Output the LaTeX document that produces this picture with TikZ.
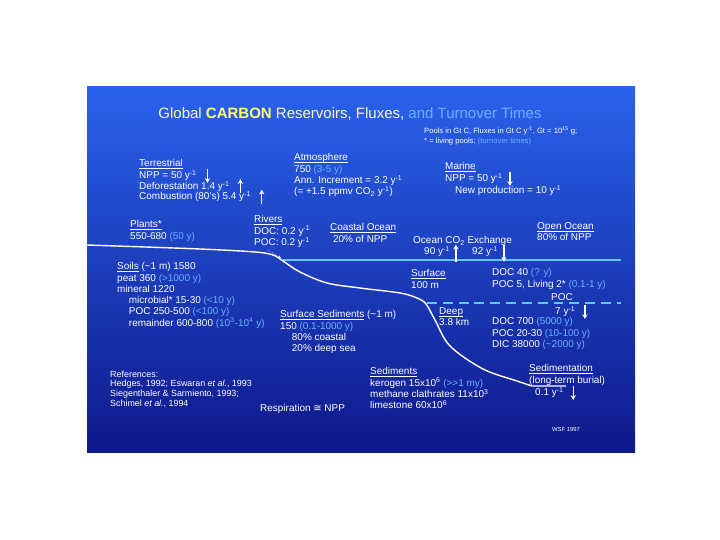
\documentclass[tikz,border=0pt]{standalone}
\usepackage{fontspec}
\setmainfont{Liberation Sans}
\newfontfamily\symfont{DejaVu Sans}
\usepackage{tikz}
\usetikzlibrary{arrows.meta}
\definecolor{slidetop}{RGB}{42,98,236}
\definecolor{slidebot}{RGB}{14,24,138}
\definecolor{turnblue}{RGB}{105,178,255}
\definecolor{titleyel}{RGB}{250,250,195}
\definecolor{carbyel}{RGB}{255,255,110}
\definecolor{seablue}{RGB}{95,200,250}
\newcommand{\turnover}[1]{\textcolor{turnblue}{#1}}
\newcommand{\peryr}{y\textsuperscript{-1}}
\newcommand{\hdr}[1]{\underline{\raisebox{0pt}[\height][0pt]{#1}}}

\begin{document}
\begin{tikzpicture}[x=0.03cm,y=-0.03cm,
    every node/.style={inner sep=0pt,text=white,font=\fontsize{8.5}{9.6}\selectfont},
    blk/.style={anchor=north west,align=left},
    flx/.style={white,line width=1.2pt,shorten <=-1.5pt,shorten >=-1.5pt,-{Stealth[length=4pt,width=4.5pt]}}]
  \useasboundingbox (0,0) rectangle (720,540);
  \shade[top color=slidetop,bottom color=slidebot] (87,87) rectangle (635,452);

  % sea surface, thermocline and sea floor
  \coordinate (shore) at (283,260);
  \coordinate (seaend) at (621,260);
  \coordinate (mouth) at (281,258);
  \draw[seablue,line width=1.8pt] (shore) -- (seaend);
  \draw[seablue,line width=1.8pt,dash pattern=on 8.5pt off 5pt] (427,303) -- (621,303);
  \draw[white,line width=1.2pt] plot[smooth,tension=0.55] coordinates {(87,245) (200,249) (255,252) (273,255) (283,261) (300,272)
    (327,283) (360,288) (400,293) (417,298) (426,304) (435,320) (450,346) (483,369) (517,381) (532,386)} -- (566,386);

  \node (title) at (350,114) {\fontsize{12.8}{14}\selectfont\textcolor{titleyel}{Global \textbf{\textcolor{carbyel}{CARBON}} Reservoirs, Fluxes,} \textcolor{turnblue}{and Turnover Times}};
  \node[blk,font=\fontsize{6.5}{8}\selectfont] (units) at (424,127) {Pools in Gt C, Fluxes in Gt C \peryr, Gt = 10\textsuperscript{15} g;\\ * = living pools; \turnover{(turnover times)}};

  \node[blk] (terr) at (139,159.5) {\hdr{Terrestrial}};
  \node[blk] (terrnpp) at (139,170.5) {NPP = 50 \peryr};
  \node[blk] (terrdef) at (139,181) {Deforestation 1.4 \peryr};
  \node[blk] (terrcomb) at (139,191.5) {Combustion (80's) 5.4 \peryr};
  \draw[flx] ([xshift=9pt]terrnpp.north east) -- ([xshift=9pt]terrnpp.south east);
  \draw[flx] ([xshift=9pt]terrdef.south east) -- ([xshift=9pt]terrdef.north east);
  \draw[flx] ([xshift=9pt]terrcomb.south east) -- ([xshift=9pt]terrcomb.north east);

  \node[blk] (atm) at (294,153.5) {\hdr{Atmosphere}\\ 750 \turnover{(3-5 y)}\\ Ann. Increment = 3.2 \peryr\\ (= +1.5 ppmv CO\textsubscript{2} \peryr)};

  \node[blk] (mar) at (445,162.5) {\hdr{Marine}};
  \node[blk] (marnpp) at (445,173.5) {NPP = 50 \peryr};
  \node[blk] (marnew) at (455,185) {New production = 10 \peryr};
  \draw[flx] ([xshift=6pt]marnpp.north east) -- ([xshift=6pt]marnpp.south east);

  \node[blk] (plants) at (130,220.5) {\hdr{Plants*}\\ 550-680 \turnover{(50 y)}};
  \node[blk] (riv) at (254,215.5) {\hdr{Rivers}\\ DOC: 0.2 \peryr\\ POC: 0.2 \peryr};
  \draw[white,densely dotted,thin,-{Stealth[length=2.5pt]}] ([shift={(12pt,-2pt)}]riv.south west) -- (mouth);
  \node[blk] (coast) at (330,223.5) {\hdr{Coastal Ocean}\\ \ 20\% of NPP};
  \node[blk] (exch) at (413,236.5) {Ocean CO\textsubscript{2} Exchange};
  \node[blk] (exin) at (424,246.5) {90 \peryr};
  \node[blk] (exout) at (472,246.5) {92 \peryr};
  \draw[flx] ([xshift=5pt]exin.east |- shore) -- ([xshift=5pt]exin.north east);
  \draw[flx] ([xshift=5pt]exout.north east) -- ([xshift=5pt]exout.east |- shore);
  \node[blk] (open) at (537,222.5) {\hdr{Open Ocean}\\ 80\% of NPP};

  \node[blk] (soils) at (117,262.5) {\hdr{Soils} (\textasciitilde 1 m) 1580\\ peat 360 \turnover{(>1000 y)}\\ mineral 1220\\
    \hspace*{10pt}microbial* 15-30 \turnover{(<10 y)}\\ \hspace*{10pt}POC 250-500 \turnover{(<100 y)}\\
    \hspace*{10pt}remainder 600-800 \turnover{(10\textsuperscript{3}-10\textsuperscript{4} y)}};

  \node[blk] (surf) at (411,269.5) {\hdr{Surface}\\ 100 m};
  \node[blk] (deep) at (439,307.5) {\hdr{Deep}\\ 3.8 km};
  \node[blk] (surfpool) at (492,268.5) {DOC 40 \turnover{(? y)}\\ POC 5, Living 2* \turnover{(0.1-1 y)}};
  \node (pocflux) at (562,297) {POC};
  \node[blk] (pocrate) at (555,306.5) {7 \peryr};
  \draw[flx] ([xshift=8pt]pocrate.north east) -- ([xshift=8pt]pocrate.south east);
  \node[blk] (deeppool) at (492,317.5) {DOC 700 \turnover{(5000 y)}\\ POC 20-30 \turnover{(10-100 y)}\\ DIC 38000 \turnover{(\textasciitilde 2000 y)}};

  \node[blk] (surfsed) at (280,310.5) {\hdr{Surface Sediments} (\textasciitilde 1 m)\\ 150 \turnover{(0.1-1000 y)}\\
    \hspace*{10pt}80\% coastal\\ \hspace*{10pt}20\% deep sea};

  \node[blk,font=\fontsize{7.6}{8.3}\selectfont] (refs) at (110,370.5) {References:\\ Hedges, 1992; Eswaran \textit{et al.}, 1993\\
    Siegenthaler \& Sarmiento, 1993;\\ Schimel \textit{et al.}, 1994};
  \node[blk] (resp) at (260,404.5) {Respiration {\symfont ≅} NPP};
  \node[blk] (seds) at (370,367.5) {\hdr{Sediments}\\ kerogen 15x10\textsuperscript{6} \turnover{(>{}>1 my)}\\
    methane clathrates 11x10\textsuperscript{3}\\ limestone 60x10\textsuperscript{6}};
  \node[blk] (sedim) at (529,364.5) {\hdr{Sedimentation}\\ (long-term burial)};
  \node[blk] (burial) at (535,387.5) {0.1 \peryr};
  \draw[flx] ([xshift=8pt]burial.north east) -- ([xshift=8pt]burial.south east);
  \node[font=\fontsize{5}{6}\selectfont] (wsf) at (566,429) {WSF 1997};
\end{tikzpicture}
\end{document}
